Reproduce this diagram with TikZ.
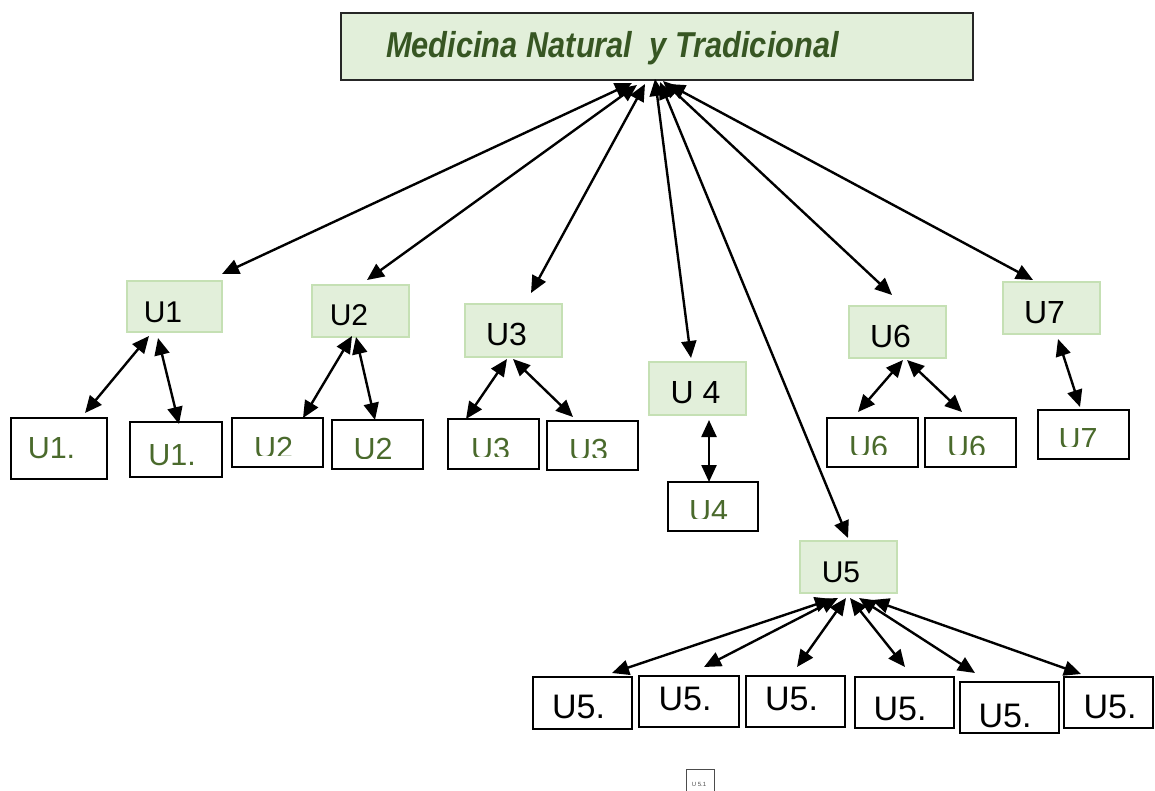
\documentclass[tikz,border=0pt]{standalone}
\usepackage{fontspec}
\setmainfont{Liberation Sans}
\newfontfamily\titlefont[FakeStretch=0.855]{Liberation Sans}
\usetikzlibrary{arrows.meta}
\definecolor{boxfill}{HTML}{E2EFDA}
\definecolor{boxedge}{HTML}{C5E0B4}
\definecolor{titletext}{HTML}{375623}
\definecolor{subtext}{HTML}{4A6A2C}
% label whose lower part is cut off by the clip line #4
\newcommand\cutlab[5]{%
  \begin{scope}
    \clip ({#2-45},{#4-40}) rectangle ({#2+45},{#4});
    \node[wlab] (#1) at (#2,#3) {#5};
  \end{scope}}
\begin{document}
\begin{tikzpicture}[x=1pt,y=-1pt,
  gbox/.style={draw=boxedge, line width=1.5pt, fill=boxfill, inner sep=0pt, outer sep=0pt},
  wbox/.style={draw=black, line width=1.8pt, fill=white, inner sep=0pt, outer sep=0pt},
  link/.style={line width=2.4pt, {Triangle[length=17pt,width=15pt]}-{Triangle[length=17pt,width=15pt]}},
  glab/.style={inner sep=0pt, anchor=base, text=black, font=\fontsize{30}{36}\selectfont},
  glabl/.style={glab, font=\fontsize{32}{38}\selectfont},
  wlab/.style={inner sep=0pt, anchor=base, text=subtext, font=\fontsize{30.5}{36}\selectfont},
  ulab/.style={inner sep=0pt, anchor=base, text=black, font=\fontsize{34}{40}\selectfont}]
\useasboundingbox (0,0) rectangle (1155,791);

% title
\node[draw=black!85, line width=2pt, fill=boxfill, minimum width=632pt, minimum height=67pt,
      inner sep=0pt] (title) at (657,46.5) {};
\node[inner sep=0pt, anchor=base west, text=titletext,
      font=\titlefont\bfseries\itshape\fontsize{36}{42}\selectfont] (titletxt) at (386,58)
  {Medicina Natural\ \ y Tradicional};

% units
\node[gbox, minimum width=95pt, minimum height=51pt] (g1) at (174.5,306.5) {};
\node[gbox, minimum width=97pt, minimum height=52pt] (g2) at (360.5,311) {};
\node[gbox, minimum width=97pt, minimum height=53pt] (g3) at (513.5,330.5) {};
\node[gbox, minimum width=97pt, minimum height=53pt] (g4) at (697.5,388.5) {};
\node[gbox, minimum width=97pt, minimum height=52pt] (g5) at (848.5,567) {};
\node[gbox, minimum width=97pt, minimum height=52pt] (g6) at (897.5,332) {};
\node[gbox, minimum width=97pt, minimum height=52pt] (g7) at (1051.5,308) {};
\node[glab] (g1t) at (163,322) {U1};
\node[glab] (g2t) at (349,325) {U2};
\node[glabl] (g3t) at (506.5,345) {U3};
\node[glabl] (g4t) at (695.5,403) {U 4};
\node[glab] (g5t) at (841,582) {U5};
\node[glabl] (g6t) at (890.5,347) {U6};
\node[glabl] (g7t) at (1044.5,323) {U7};

% subunits
\node[wbox, minimum width=96pt, minimum height=61pt] (w1a) at (59,448.5) {};
\node[wbox, minimum width=92pt, minimum height=55pt] (w1b) at (176,449.5) {};
\node[wbox, minimum width=91pt, minimum height=49pt] (w2a) at (277.5,442.5) {};
\node[wbox, minimum width=91pt, minimum height=49pt] (w2b) at (377.5,444.5) {};
\node[wbox, minimum width=91pt, minimum height=50pt] (w3a) at (493.5,444) {};
\node[wbox, minimum width=91pt, minimum height=49pt] (w3b) at (592.5,445.5) {};
\node[wbox, minimum width=90pt, minimum height=49pt] (w4) at (713,506.5) {};
\node[wbox, minimum width=91pt, minimum height=49pt] (w6a) at (872.5,442.5) {};
\node[wbox, minimum width=91pt, minimum height=49pt] (w6b) at (970.5,442.5) {};
\node[wbox, minimum width=91pt, minimum height=49pt] (w7) at (1083.5,434.5) {};
\node[wlab] (w1at) at (51.5,458) {U1.};
\node[wlab] (w1bt) at (172,465) {U1.};
\cutlab{w2at}{273.5}{458}{455.5}{U2}
\cutlab{w2bt}{373}{459}{458}{U2}
\cutlab{w3at}{490.5}{459}{456.5}{U3}
\cutlab{w3bt}{588.5}{460}{457.5}{U3}
\cutlab{w4t}{708.5}{521}{518.5}{U4}
\cutlab{w6at}{868.5}{457}{454.5}{U6}
\cutlab{w6bt}{966.5}{457}{454.5}{U6}
\cutlab{w7t}{1078}{449}{446.5}{U7}

% subunits of U5
\node[wbox, minimum width=99pt, minimum height=52pt] (w51) at (582.5,703) {};
\node[wbox, minimum width=100pt, minimum height=51pt] (w52) at (689,701.5) {};
\node[wbox, minimum width=99pt, minimum height=51pt] (w53) at (795.5,701.5) {};
\node[wbox, minimum width=99pt, minimum height=51pt] (w54) at (904.5,702.5) {};
\node[wbox, minimum width=99pt, minimum height=51pt] (w55) at (1009.5,707.5) {};
\node[wbox, minimum width=89pt, minimum height=51pt] (w56) at (1108.5,702.5) {};
\node[ulab] (w51t) at (578.5,718) {U5.};
\node[ulab] (w52t) at (685,710) {U5.};
\node[ulab] (w53t) at (791.5,710) {U5.};
\node[ulab] (w54t) at (900,720) {U5.};
\node[ulab] (w55t) at (1005,727) {U5.};
\node[ulab] (w56t) at (1110,718) {U5.};

% small box at the foot
\node[draw=black!70, line width=0.8pt, fill=white, minimum width=28pt, minimum height=31pt,
      inner sep=0pt] (mini) at (700,784.5) {};
\node[inner sep=0pt, anchor=base, text=black!70, font=\fontsize{6}{7}\selectfont] (minit)
  at (699,786) {U 5.1};

% connector ends
\coordinate (t1) at (632,83);  \coordinate (b1) at (222,274);
\coordinate (t2) at (637,85);  \coordinate (b2) at (367,280);
\coordinate (t3) at (645,84);  \coordinate (b3) at (531,293);
\coordinate (t4) at (655,79);  \coordinate (b4) at (691,358);
\coordinate (t5) at (660,82);  \coordinate (b5) at (848,538);
\coordinate (t6) at (663,81);  \coordinate (b6) at (892,295);
\coordinate (t7) at (668,84);  \coordinate (b7) at (1033,280);

\coordinate (s1a) at (149,336); \coordinate (e1a) at (85,413);
\coordinate (s1b) at (158,338); \coordinate (e1b) at (179,424);
\coordinate (s2a) at (352,336); \coordinate (e2a) at (303,418);
\coordinate (s2b) at (356,337); \coordinate (e2b) at (375,420);
\coordinate (s3a) at (507,359); \coordinate (e3a) at (466,419);
\coordinate (s3b) at (513,359); \coordinate (e3b) at (573,417);
\coordinate (s4)  at (709,420); \coordinate (e4)  at (709,482);
\coordinate (s6a) at (903,360); \coordinate (e6a) at (858,412);
\coordinate (s6b) at (907,360); \coordinate (e6b) at (962,412);
\coordinate (s7)  at (1058,339); \coordinate (e7) at (1080,407);

\coordinate (s51) at (832,599); \coordinate (e51) at (612,673);
\coordinate (s52) at (838,598); \coordinate (e52) at (704,667);
\coordinate (s53) at (846,598); \coordinate (e53) at (797,667);
\coordinate (s54) at (850,598); \coordinate (e54) at (905,667);
\coordinate (s55) at (859,598); \coordinate (e55) at (975,673);
\coordinate (s56) at (872,600); \coordinate (e56) at (1081,674);

% connectors
\foreach \k in {1,...,7} \draw[link] (t\k) -- (b\k);
\foreach \k in {1a,1b,2a,2b,3a,3b,4,6a,6b,7,51,52,53,54,55,56}
  \draw[link] (s\k) -- (e\k);
\end{tikzpicture}
\end{document}
